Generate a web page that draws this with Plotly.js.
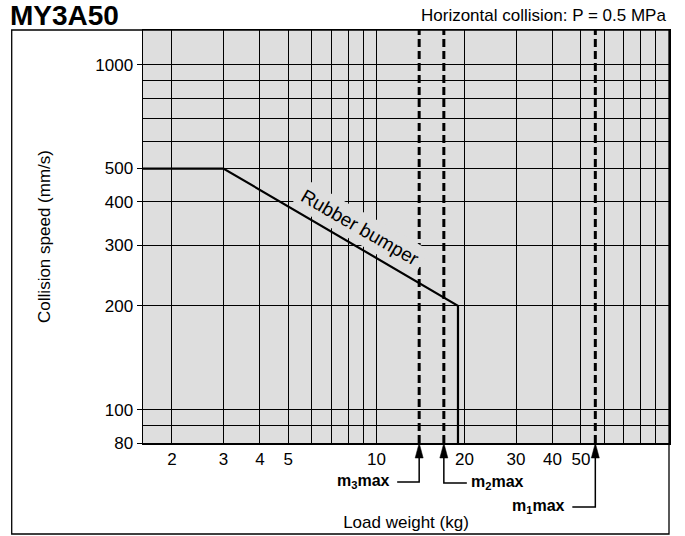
<!DOCTYPE html>
<html>
<head>
<meta charset="utf-8">
<script src="https://cdn.plot.ly/plotly-3.0.1.min.js"></script>
<style>
  html, body { margin: 0; padding: 0; background: #ffffff; }
  #chart { width: 685px; height: 536px; }
</style>
</head>
<body>
<div id="chart"></div>
<script>
// ---- data ----
const loadKg = [1.59, 3, 19, 19];          // Rubber bumper limit line: load weight (kg)
const speedMms = [500, 500, 200, 80];      // collision speed (mm/s)
const maxLoadKg = [14, 17, 56];            // m3max, m2max, m1max
const maxLabels = ['m<sub>3</sub>max', 'm<sub>2</sub>max', 'm<sub>1</sub>max'];
const xTickVals = [2, 3, 4, 5, 10, 20, 30, 40, 50];
const xTickText = ['2', '3', '4', '5', '10', '20', '30', '40', '50'];
const xMinorVals = [6, 7, 8, 9, 60, 70, 80, 90];
const yTickVals = [80, 100, 200, 300, 400, 500, 1000];
const yTickText = ['80', '100', '200', '300', '400', '500', '1000'];
const yMinorVals = [90, 600, 700, 800, 900];
const xRange = [1.593, 100];
const yRange = [80, 1261];
const curveLabel = 'Rubber bumper';
const curveLabelAt = [8.8, 338];

// ---- styles / layout ----
const FONT = 'Liberation Sans, Arial, Helvetica, sans-serif';
const traces = [];

maxLoadKg.forEach((m) => {
  traces.push({
    x: [m, m], y: [yRange[0], yRange[1]],
    type: 'scatter', mode: 'lines',
    line: { color: '#000000', width: 3, dash: '8px,4px' },
    hoverinfo: 'skip', showlegend: false
  });
});

traces.push({
  x: loadKg, y: speedMms,
  type: 'scatter', mode: 'lines',
  line: { color: '#000000', width: 2.2 },
  name: curveLabel, showlegend: false
});

// arrow geometry (pixels below the x axis)
const arrowDepth = [39, 40, 64];
const arrowRun = [-22, 23, -23];
const labelShiftX = [-27, 25, -28];
const labelAnchor = ['right', 'left', 'right'];

const shapes = [];
const annotations = [];
maxLoadKg.forEach((m, i) => {
  shapes.push({
    type: 'path', xref: 'x', xsizemode: 'pixel', xanchor: m,
    yref: 'paper', ysizemode: 'pixel', yanchor: 0,
    path: `M0,-14 L0,${-arrowDepth[i]} L${arrowRun[i]},${-arrowDepth[i]}`,
    line: { color: '#000000', width: 1.5 }
  });
  shapes.push({
    type: 'path', xref: 'x', xsizemode: 'pixel', xanchor: m,
    yref: 'paper', ysizemode: 'pixel', yanchor: 0,
    path: 'M0,0 L-4,-15 L4,-15 Z',
    fillcolor: '#000000', line: { color: '#000000', width: 0.5 }
  });
  annotations.push({
    xref: 'x', x: Math.log10(m), yref: 'paper', y: 0,
    xanchor: labelAnchor[i], yanchor: 'middle',
    xshift: labelShiftX[i], yshift: -arrowDepth[i] + 1,
    text: '<b>' + maxLabels[i] + '</b>', showarrow: false,
    font: { family: FONT, size: 16, color: '#000000' }
  });
});

// outer frame
shapes.push({
  type: 'rect', xref: 'paper', yref: 'paper',
  x0: -0.2496, x1: 1.0, y0: -0.2203, y1: 1.0,
  line: { color: '#000000', width: 1.3 }, fillcolor: 'rgba(0,0,0,0)'
});

annotations.push({
  xref: 'x', yref: 'y',
  x: Math.log10(curveLabelAt[0]), y: Math.log10(curveLabelAt[1]),
  text: curveLabel, textangle: 30, showarrow: false,
  bgcolor: '#dedede', borderpad: 4,
  font: { family: FONT, size: 19, color: '#000000' }
});

annotations.push({
  xref: 'paper', yref: 'paper', x: 1, y: 1.0363,
  xanchor: 'right', yanchor: 'middle', xshift: -1,
  text: 'Horizontal collision: P = 0.5 MPa', showarrow: false,
  font: { family: FONT, size: 17, color: '#000000' }
});

const gridStyle = { showgrid: true, gridcolor: '#000000', gridwidth: 1 };

const layout = {
  width: 685, height: 536,
  margin: { l: 143, r: 16, t: 30, b: 93 },
  paper_bgcolor: '#ffffff',
  plot_bgcolor: '#dedede',
  showlegend: false,
  title: {
    text: '<b>MY3A50</b>',
    xref: 'container', yref: 'container',
    x: 0.0146, xanchor: 'left', y: 0.972, yanchor: 'middle',
    font: { family: FONT, size: 28, color: '#000000' }
  },
  xaxis: Object.assign({
    type: 'log',
    range: [Math.log10(xRange[0]), Math.log10(xRange[1])],
    tickmode: 'array', tickvals: xTickVals, ticktext: xTickText,
    ticks: '',
    minor: Object.assign({ tickmode: 'array', tickvals: xMinorVals, ticks: '' }, gridStyle),
    showline: true, linecolor: '#000000', linewidth: 1.5, mirror: true,
    zeroline: false,
    tickfont: { family: FONT, size: 17, color: '#000000' },
    title: { text: 'Load weight (kg)', standoff: 48,
             font: { family: FONT, size: 17, color: '#000000' } }
  }, gridStyle),
  yaxis: Object.assign({
    type: 'log',
    range: [Math.log10(yRange[0]), Math.log10(yRange[1])],
    tickmode: 'array', tickvals: yTickVals, ticktext: yTickText,
    ticks: 'outside', ticklen: 5, tickcolor: '#000000', tickwidth: 1,
    minor: Object.assign({ tickmode: 'array', tickvals: yMinorVals, ticks: '' }, gridStyle),
    showline: true, linecolor: '#000000', linewidth: 1.5, mirror: true,
    zeroline: false,
    tickfont: { family: FONT, size: 17, color: '#000000' },
    title: { text: 'Collision speed (mm/s)', standoff: 40,
             font: { family: FONT, size: 17, color: '#000000' } }
  }, gridStyle),
  shapes: shapes,
  annotations: annotations
};

Plotly.newPlot('chart', traces, layout, { displayModeBar: false, staticPlot: true });
</script>
</body>
</html>
